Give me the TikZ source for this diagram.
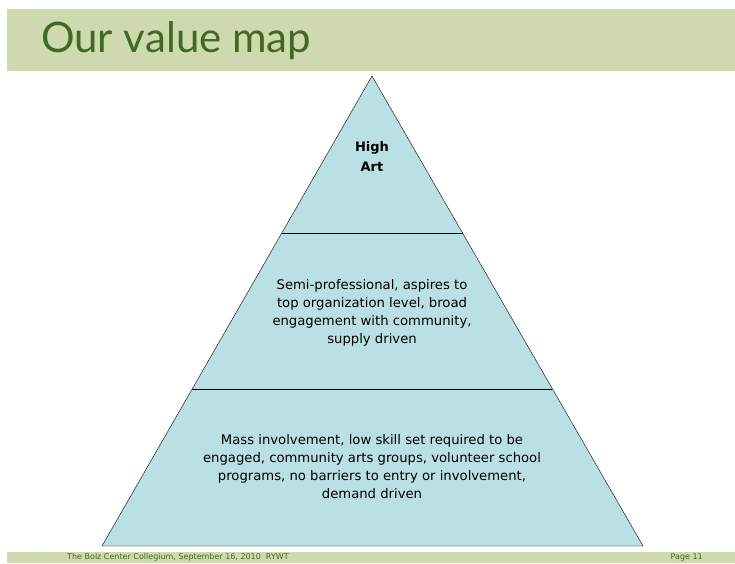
\documentclass[tikz,border=0pt]{standalone}
\usepackage{fontspec}
\setmainfont{DejaVu Sans}
\newfontfamily\titlefont{Lato}
\usepackage{xcolor}
\usetikzlibrary{calc}

\definecolor{barcol}{HTML}{CFD9B0}
\definecolor{titlecol}{HTML}{3E6B1F}
\definecolor{pyrcol}{HTML}{BAE0E3}

\begin{document}
\begin{tikzpicture}[x=1pt, y=-1pt, thin,
    every node/.style={align=center, font=\fontsize{13.2}{18}\selectfont},
    foot/.style={font=\fontsize{8}{8}\selectfont, text=titlecol, inner sep=0pt}]
       \useasboundingbox (0,0) rectangle (735,563);
       % Bars
       \fill[barcol] (7,9) rectangle (735,71);
       \fill[barcol] (7,552) rectangle (735,563);
       \node[anchor=west, inner sep=0pt, text=titlecol, font=\titlefont\fontsize{42}{42}\selectfont] (title) at (41,41) {Our value map};
       
       % Pyramid
       \coordinate (apex) at (372,76);
       \coordinate (baseL) at (102,546);
       \coordinate (baseR) at (643,546);
       \filldraw[fill=pyrcol, draw=black] (apex) -- (baseR) -- (baseL) -- cycle;
       \draw ($(apex)!0.334!(baseL)$) -- ($(apex)!0.334!(baseR)$);
       \draw ($(apex)!0.666!(baseL)$) -- ($(apex)!0.666!(baseR)$);
       
       % Labels
       \node[font=\bfseries\fontsize{13}{20}\selectfont] (top) at (372,157) {High\\Art};
       \node (mid) at (372,313) {Semi-professional, aspires to\\top organization level, broad\\engagement with community,\\supply driven};
       \node (base) at (372,467) {Mass involvement, low skill set required to be\\engaged, community arts groups, volunteer school\\programs, no barriers to entry or involvement,\\demand driven};
       
       % Footer
       \node[foot, anchor=west] (credit) at (67,557.5) {The Bolz Center Collegium, September 16, 2010~~RYWT};
       \node[foot, anchor=east] (page) at (703,557.5) {Page 11};
\end{tikzpicture}
\end{document}
